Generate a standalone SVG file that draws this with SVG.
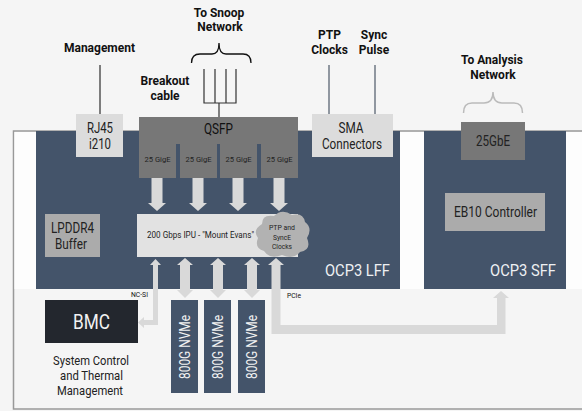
<svg xmlns="http://www.w3.org/2000/svg" width="582" height="411" viewBox="0 0 582 411">
<defs>
<style>
text{font-family:Roboto,"Liberation Sans",sans-serif;}
.b{font-weight:bold;font-size:12px;fill:#111;text-anchor:middle;}
.t14{font-size:14px;fill:#222;text-anchor:middle;}
.t8{font-size:8px;fill:#222;text-anchor:middle;}
.panel{fill:#44546a;}
.lt{fill:#dcdcdc;}
.mg{fill:#777;}
.ag{fill:#ababab;}
.arr{fill:#d9d9d9;}
.ln{stroke:#555;stroke-width:1.5;fill:none;}
</style>
</defs>
<rect width="582" height="411" fill="#f5f5f5"/>
<rect x="13.5" y="131" width="580" height="278" fill="#f5f5f5" stroke="#999" stroke-width="1.5"/>
<rect x="14.5" y="132" width="578" height="157" fill="#fdfdfd"/>

<g id="ocp3-lff">
<rect class="panel" x="36" y="131" width="364" height="158"/>
<text x="390" y="276" font-size="17" fill="#eef0f3" text-anchor="end" textLength="65" lengthAdjust="spacingAndGlyphs">OCP3 LFF</text>
</g>
<g id="ocp3-sff">
<rect class="panel" x="424" y="131" width="142" height="158"/>
<text x="556" y="276" font-size="17" fill="#eef0f3" text-anchor="end" textLength="66" lengthAdjust="spacingAndGlyphs">OCP3 SFF</text>
</g>

<g id="management">
<text class="b" x="99.5" y="52">Management</text>
</g>
<g id="rj45">
<rect class="lt" x="76" y="114" width="47" height="43"/>
<text class="t14" x="100" y="133" textLength="26" lengthAdjust="spacingAndGlyphs">RJ45</text>
<text class="t14" x="100" y="149" textLength="22" lengthAdjust="spacingAndGlyphs">i210</text>
</g>

<g id="snoop-network">
<text class="b" x="219" y="17">To Snoop</text>
<text class="b" x="220" y="31">Network</text>
<path d="M191.5 63 Q191.5 54 200 54 L212 54 Q219 54 219 43 Q219 54 226 54 L243 54 Q251 54 251 63" fill="none" stroke="#111" stroke-width="1.3"/>
</g>
<g id="breakout-cable">
<text class="b" x="165" y="85">Breakout</text>
<text class="b" x="165" y="100">cable</text>
<path d="M204 69 V103 H236 V69 M215 69 V103 M226 69 V103 M219 103 V117" fill="none" stroke="#333" stroke-width="1.2"/>
</g>

<g id="qsfp">
<rect class="mg" x="139" y="117" width="159" height="27"/>
<text class="t14" x="218.5" y="134" style="fill:#111" textLength="29" lengthAdjust="spacingAndGlyphs">QSFP</text>
<rect class="mg" x="139" y="143" width="37" height="35"/>
<rect class="mg" x="180" y="143" width="37" height="35"/>
<rect class="mg" x="220" y="143" width="37" height="35"/>
<rect class="mg" x="261" y="143" width="37" height="35"/>
<text class="t8" x="157.5" y="162" textLength="26" lengthAdjust="spacingAndGlyphs">25 GigE</text>
<text class="t8" x="198.5" y="162" textLength="26" lengthAdjust="spacingAndGlyphs">25 GigE</text>
<text class="t8" x="238.5" y="162" textLength="26" lengthAdjust="spacingAndGlyphs">25 GigE</text>
<text class="t8" x="279.5" y="162" textLength="26" lengthAdjust="spacingAndGlyphs">25 GigE</text>
</g>

<g id="ptp-clocks">
<text class="b" x="329.5" y="39">PTP</text>
<text class="b" x="329.5" y="54">Clocks</text>
</g>
<g id="sync-pulse">
<text class="b" x="374" y="39">Sync</text>
<text class="b" x="374" y="54">Pulse</text>
</g>
<g id="sma">
<rect class="lt" x="312" y="114" width="81" height="43"/>
<text class="t14" x="351" y="133" textLength="25" lengthAdjust="spacingAndGlyphs">SMA</text>
<text class="t14" x="352" y="149" textLength="60" lengthAdjust="spacingAndGlyphs">Connectors</text>
</g>

<g id="analysis-network">
<text class="b" x="492" y="64">To Analysis</text>
<text class="b" x="493" y="79">Network</text>
<path d="M463.5 113 Q463.5 103 472 103 L484 103 Q493 103 493 92 Q493 103 502 103 L514 103 Q522.5 103 522.5 113" fill="none" stroke="#bbb" stroke-width="1.5"/>
</g>
<g id="gbe25">
<rect class="mg" x="461" y="122" width="64" height="38"/>
<text class="t14" x="493" y="146" textLength="34" lengthAdjust="spacingAndGlyphs">25GbE</text>
</g>
<g id="eb10">
<rect class="ag" x="445" y="193" width="100" height="38"/>
<text class="t14" x="495.5" y="217" textLength="83" lengthAdjust="spacingAndGlyphs">EB10 Controller</text>
</g>
<g id="lpddr4">
<rect class="ag" x="45" y="214" width="55" height="43"/>
<text class="t14" x="72.5" y="233" textLength="43" lengthAdjust="spacingAndGlyphs">LPDDR4</text>
<text class="t14" x="71" y="249" textLength="32" lengthAdjust="spacingAndGlyphs">Buffer</text>
</g>

<g id="connectors">
<path class="ln" d="M100 65 V114"/>
<path d="M329 65 V114 M375 65 V114" stroke="#6f7884" stroke-width="1.5" fill="none"/>
<g class="arr">
<path d="M151.5 178 H162.5 V203 H166 L157 211 L148 203 H151.5 Z"/>
<path d="M192.5 178 H203.5 V203 H207 L198 211 L189 203 H192.5 Z"/>
<path d="M232.5 178 H243.5 V203 H247 L238 211 L229 203 H232.5 Z"/>
<path d="M273.5 178 H284.5 V203 H288 L279 211 L270 203 H273.5 Z"/>
<path d="M153 265 H150 L155.5 259 L161 265 H158 V325 H144 V328 L138 322.5 L144 317 V320 H153 Z"/>
<path d="M180 265 H177 L185 258 L193 265 H190 V290 H193 L185 298 L177 290 H180 Z"/>
<path d="M213 265 H210 L218 258 L226 265 H223 V290 H226 L218 298 L210 290 H213 Z"/>
<path d="M247 265 H244 L252 258 L260 265 H257 V290 H260 L252 298 L244 290 H247 Z"/>
<path d="M271.5 265 H268 L276 258 L284 265 H280.5 V325 H497 V298 H493 L501 291 L509 298 H505.5 V334 H271.5 Z"/>
</g>
<text x="148" y="297" font-size="6.5" fill="#111" text-anchor="end" textLength="17" lengthAdjust="spacingAndGlyphs">NC-SI</text>
<text x="287" y="298" font-size="6.5" fill="#111" textLength="14" lengthAdjust="spacingAndGlyphs">PCIe</text>
</g>

<g id="ipu">
<rect fill="#e2e2e2" x="137" y="214" width="161" height="43"/>
<text x="147" y="238" font-size="9.5" fill="#222" textLength="107" lengthAdjust="spacingAndGlyphs">200 Gbps IPU - "Mount Evans"</text>
</g>
<g id="ptp-synce-cloud">
<path d="M262 224 Q262 214 274 216 Q282 208 292 215 Q303 212 305 222 Q313 228 307 238 Q312 250 300 252 Q294 260 282 255 Q270 260 264 251 Q254 248 258 238 Q252 230 262 224 Z" fill="#b2b2b2"/>
<text class="t8" x="282" y="230" textLength="26" lengthAdjust="spacingAndGlyphs">PTP and</text>
<text class="t8" x="282" y="239.5" textLength="18" lengthAdjust="spacingAndGlyphs">SyncE</text>
<text class="t8" x="282" y="249" textLength="20" lengthAdjust="spacingAndGlyphs">Clocks</text>
</g>

<g id="bmc">
<rect fill="#23272e" x="45" y="300" width="93" height="43"/>
<text x="91.5" y="329" font-size="20" fill="#f2f2f2" text-anchor="middle" textLength="37" lengthAdjust="spacingAndGlyphs">BMC</text>
<text class="t14" x="91" y="365" style="font-size:13px" textLength="76" lengthAdjust="spacingAndGlyphs">System Control</text>
<text class="t14" x="91.5" y="380" style="font-size:13px" textLength="63" lengthAdjust="spacingAndGlyphs">and Thermal</text>
<text class="t14" x="90" y="395" style="font-size:13px" textLength="66" lengthAdjust="spacingAndGlyphs">Management</text>
</g>

<g id="nvme1">
<rect class="panel" x="171" y="300" width="27" height="93"/>
<text transform="translate(189.5 347) rotate(-90)" font-size="14" fill="#f2f2f2" text-anchor="middle" textLength="64" lengthAdjust="spacingAndGlyphs">800G NVMe</text>
</g>
<g id="nvme2">
<rect class="panel" x="204" y="300" width="27" height="93"/>
<text transform="translate(222.5 347) rotate(-90)" font-size="14" fill="#f2f2f2" text-anchor="middle" textLength="64" lengthAdjust="spacingAndGlyphs">800G NVMe</text>
</g>
<g id="nvme3">
<rect class="panel" x="238" y="300" width="27" height="93"/>
<text transform="translate(256.5 347) rotate(-90)" font-size="14" fill="#f2f2f2" text-anchor="middle" textLength="64" lengthAdjust="spacingAndGlyphs">800G NVMe</text>
</g>
</svg>
